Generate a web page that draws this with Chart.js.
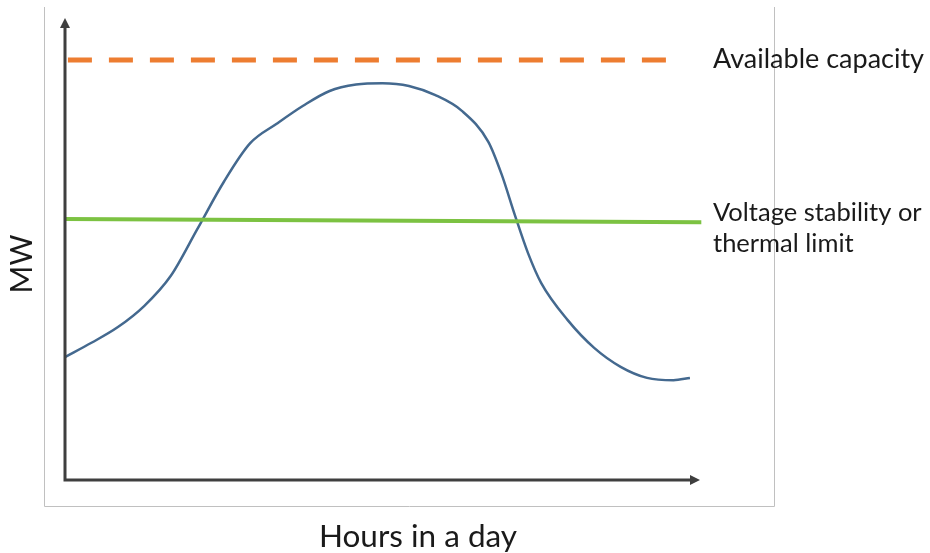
<!DOCTYPE html>
<html>
<head>
<meta charset="utf-8">
<script src="https://cdn.jsdelivr.net/npm/chart.js@4.4.1/dist/chart.umd.min.js"></script>
<style>
  html, body { margin: 0; padding: 0; background: #ffffff; }
  #wrap { width: 930px; height: 553px; position: relative; }
</style>
</head>
<body>
<div id="wrap"><canvas id="c" width="930" height="553"></canvas></div>
<script>
// Hours of the day (x) and MW (y, relative units)
const loadHours = [0, 1, 2, 3, 4, 5, 6, 7, 8, 9, 10, 11, 12, 13, 14, 15, 16, 16.5, 17, 17.5, 18, 19, 20, 21, 22, 23, 23.62];
const loadMW    = [26.6, 29.7, 33.1, 37.7, 44.2, 54.3, 64.5, 72.9, 77.1, 81.0, 84.2, 85.6, 85.9, 85.3, 83.3, 79.9, 73.2, 66.2, 57.4, 49.1, 42.6, 34.6, 28.6, 24.5, 22.1, 21.6, 22.1];
const capacityHours = [0.11, 22.94];
const capacityMW    = [90.9, 90.9];
const limitHours = [0, 24.05];
const limitMW    = [56.5, 55.8];
const xRange = [0, 24];
const yRange = [0, 100];
const capacityLabel = "Available capacity";
const limitLabel = ["Voltage stability or", "thermal limit"];
const xTitle = "Hours in a day";
const yTitle = "MW";

const toPts = (xs, ys) => xs.map((x, i) => ({ x: x, y: ys[i] }));

const FONT = "Lato, 'Open Sans', sans-serif";

const decor = {
  id: 'decor',
  beforeDatasetsDraw(chart) {
    const { ctx } = chart;
    ctx.save();
    ctx.strokeStyle = '#c0c0c0';
    ctx.lineWidth = 1;
    ctx.beginPath();
    ctx.moveTo(44.5, 7);
    ctx.lineTo(44.5, 506.5);
    ctx.lineTo(774.5, 506.5);
    ctx.lineTo(774.5, 7);
    ctx.stroke();
    ctx.restore();
  },
  afterDatasetsDraw(chart) {
    const { ctx, chartArea: a } = chart;
    ctx.save();
    ctx.strokeStyle = '#3f3f3f';
    ctx.fillStyle = '#3f3f3f';
    ctx.lineWidth = 3;
    ctx.beginPath();
    ctx.moveTo(a.left, a.top + 8);
    ctx.lineTo(a.left, a.bottom);
    ctx.lineTo(a.right - 8, a.bottom);
    ctx.stroke();
    ctx.beginPath();
    ctx.moveTo(a.left, a.top);
    ctx.lineTo(a.left - 5, a.top + 10);
    ctx.lineTo(a.left + 5, a.top + 10);
    ctx.closePath();
    ctx.fill();
    ctx.beginPath();
    ctx.moveTo(a.right, a.bottom);
    ctx.lineTo(a.right - 10, a.bottom - 5);
    ctx.lineTo(a.right - 10, a.bottom + 5);
    ctx.closePath();
    ctx.fill();

    const ys = chart.scales.y;
    ctx.fillStyle = '#1a1a1a';
    ctx.textBaseline = 'middle';
    ctx.textAlign = 'left';
    ctx.font = "27px " + FONT;
    ctx.fillText(capacityLabel, 713, ys.getPixelForValue(capacityMW[0]) - 1);
    const ly = ys.getPixelForValue(limitMW[1]);
    ctx.font = "25.5px " + FONT;
    ctx.fillText(limitLabel[0], 713, ly - 9);
    ctx.fillText(limitLabel[1], 713, ly + 22);

    ctx.font = "31.5px " + FONT;
    ctx.textAlign = 'center';
    ctx.fillText(xTitle, 418, 537);

    ctx.save();
    ctx.translate(22, 264);
    ctx.rotate(-Math.PI / 2);
    ctx.font = "30px " + FONT;
    ctx.fillText(yTitle, 0, 0);
    ctx.restore();
    ctx.restore();
  }
};

new Chart(document.getElementById('c'), {
  type: 'line',
  data: {
    datasets: [
      {
        label: 'Available capacity',
        data: toPts(capacityHours, capacityMW),
        borderColor: '#ed7d31',
        borderWidth: 5,
        borderDash: [24, 17],
        pointRadius: 0,
        fill: false
      },
      {
        label: 'Limit',
        data: toPts(limitHours, limitMW),
        borderColor: '#7cc242',
        borderWidth: 4,
        pointRadius: 0,
        fill: false
      },
      {
        label: 'Load',
        data: toPts(loadHours, loadMW),
        borderColor: '#44698f',
        borderWidth: 2.5,
        pointRadius: 0,
        cubicInterpolationMode: 'monotone',
        fill: false
      }
    ]
  },
  options: {
    responsive: false,
    animation: false,
    clip: false,
    layout: { padding: { left: 65, right: 230, top: 18, bottom: 73 } },
    plugins: { legend: { display: false }, tooltip: { enabled: false } },
    scales: {
      x: { type: 'linear', min: xRange[0], max: xRange[1], display: false },
      y: { type: 'linear', min: yRange[0], max: yRange[1], display: false }
    }
  },
  plugins: [decor]
});
</script>
</body>
</html>
